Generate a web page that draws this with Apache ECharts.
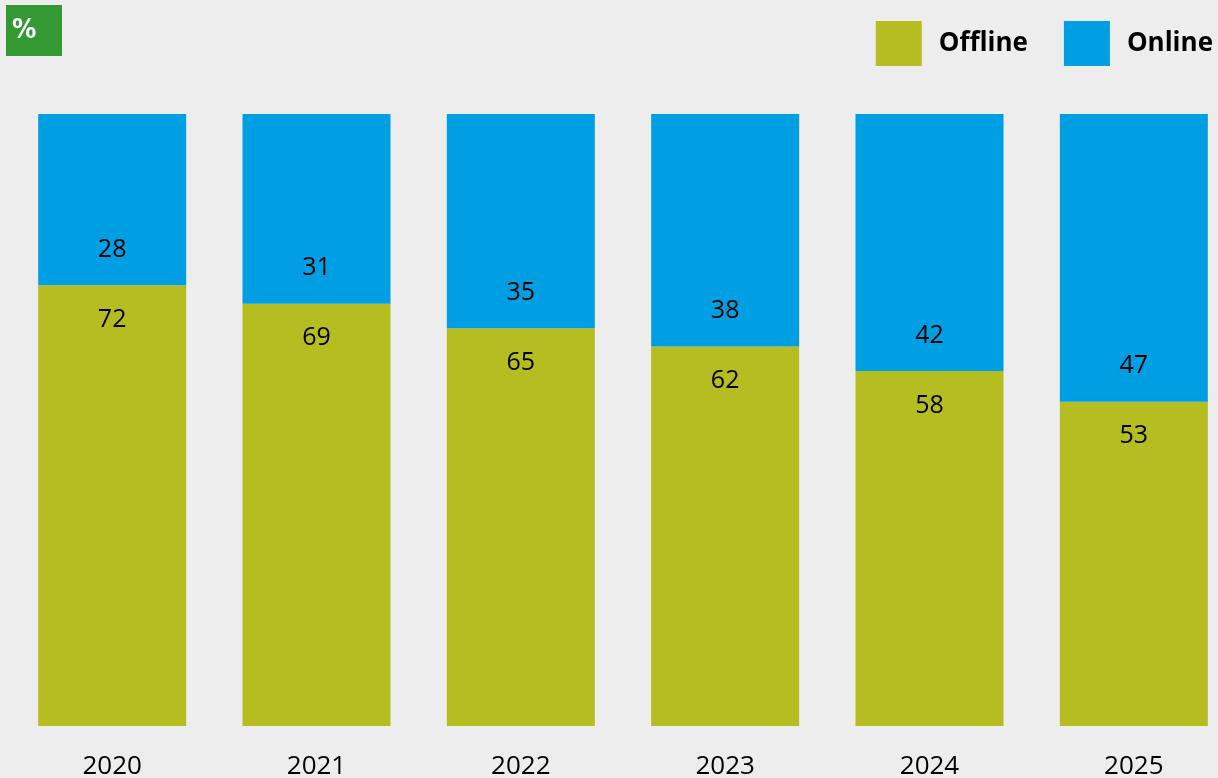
<!DOCTYPE html>
<html><head><meta charset="utf-8">
<style>html,body{margin:0;padding:0;background:#ededed;}#c{width:1218px;height:778px;}</style>
<script src="https://cdn.jsdelivr.net/npm/echarts@6/dist/echarts.min.js"></script>
</head><body><div id="c"></div>
<script>
const years = ['2020','2021','2022','2023','2024','2025'];
const offline = [72, 69, 65, 62, 58, 53];
const online = [28, 31, 35, 38, 42, 47];

const chart = echarts.init(document.getElementById('c'));
const font = '"Open Sans", "Noto Sans", sans-serif';
chart.setOption({
  backgroundColor: '#ededed',
  animation: false,
  graphic: [
    {type:'rect', left:6, top:5, shape:{width:56, height:51}, style:{fill:'#339933'}},
    {type:'text', left:12, top:17, style:{text:'%', fill:'#ffffff', font:'bold 27px "Liberation Sans Narrow", "DejaVu Sans Condensed", sans-serif'}}
  ],
  legend: {
    right: 0, top: 16, itemWidth: 46, itemHeight: 45, itemGap: 36,
    icon: 'rect',
    textStyle: {fontFamily: font, fontWeight: 'bold', fontSize: 26, color: '#000', padding:[4,0,0,12]},
    data: ['Offline', 'Online']
  },
  grid: {left: 10, top: 114, width: 1226, height: 612, outerBoundsMode: 'none', containLabel: false},
  xAxis: {
    type: 'category', data: years,
    axisLine: {show:false}, axisTick: {show:false},
    axisLabel: {fontFamily: font, fontSize: 26, color: '#000', margin: 28}
  },
  yAxis: {type:'value', min:0, max:100, show:false, splitLine:{show:false}},
  series: [
    {name:'Offline', type:'bar', stack:'s', data: offline, barWidth:148,
     itemStyle:{color:'#b5bd21'},
     label:{show:true, position:'insideTop', distance:22, fontFamily:font, fontSize:25, color:'#000'}},
    {name:'Online', type:'bar', stack:'s', data: online, barWidth:148,
     itemStyle:{color:'#009fe3'},
     label:{show:true, position:'insideBottom', distance:23, fontFamily:font, fontSize:25, color:'#000'}}
  ]
});
</script></body></html>
